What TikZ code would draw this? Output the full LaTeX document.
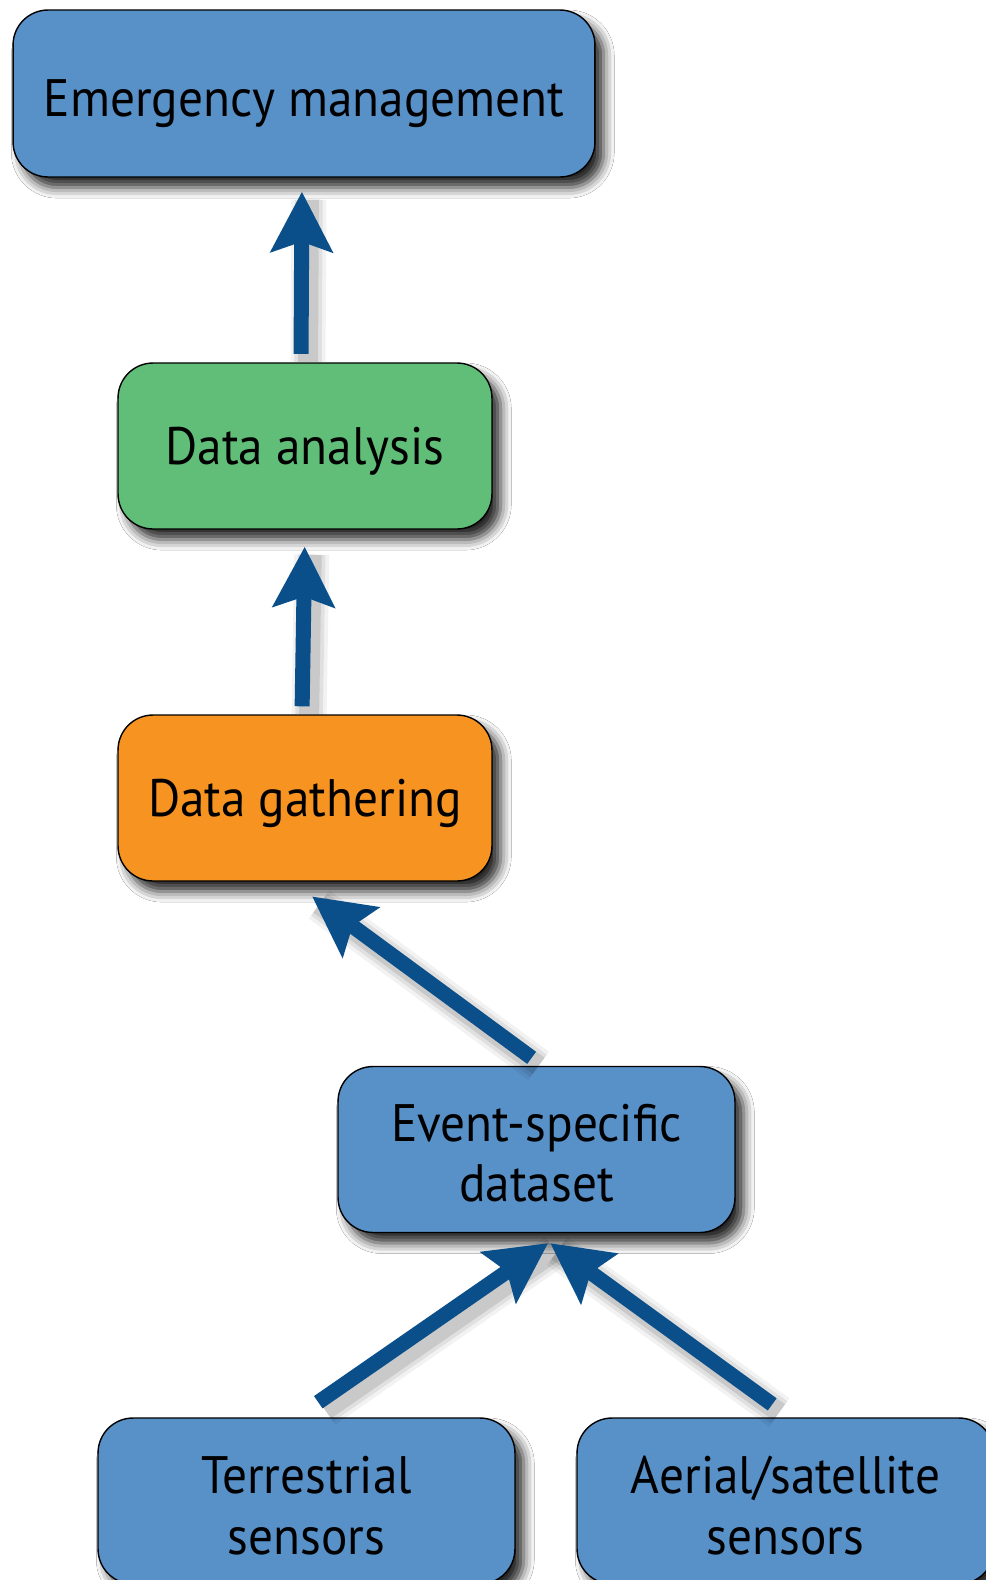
\documentclass[tikz,border=0pt]{standalone}
\usepackage{fontspec}
\setmainfont{PT Sans}[FakeStretch=0.935]
\usetikzlibrary{positioning,calc,arrows.meta,shadows.blur}
\definecolor{boxBlue}{RGB}{88,144,200}
\definecolor{boxGreen}{RGB}{96,190,120}
\definecolor{boxOrange}{RGB}{247,147,32}
\definecolor{arrowBlue}{RGB}{10,79,138}
\tikzstyle{diagram} = [x = 0.02cm, y = -0.02cm]
\tikzstyle{stageBox} = [draw=black, line width=0.8pt, rounded corners=0.7cm, align=center, inner sep=0pt,
  font=\fontsize{30}{34.5}\selectfont, fill=boxBlue,
  blur shadow={shadow xshift=5pt, shadow yshift=-6pt, shadow blur radius=6pt, shadow opacity=85}]
\tikzstyle{oneLine} = [text height=21.6pt, text depth=0pt]
\tikzstyle{wideBox} = [stageBox, oneLine, minimum width=11.64cm, minimum height=3.34cm]
\tikzstyle{midBox} = [stageBox, minimum width=7.48cm, minimum height=3.32cm]
\tikzstyle{sensorBox} = [stageBox, minimum width=8.34cm, minimum height=3.32cm, text height=60.5pt, text depth=0pt]
\tikzstyle{flowArrow} = [color=arrowBlue, line width=0.3cm, -{Stealth[length=1.2cm, width=1.22cm, inset=0.2cm]}]
\tikzstyle{arrowShade} = [color=black, transform canvas={shift={(0.14cm,-0.16cm)}}]
\newcommand{\shadedArrow}[3]{
  \foreach \spread/\fade in {0.7cm/0.05, 0.55cm/0.07, 0.4cm/0.1} {
    \draw[arrowShade, line width=\spread, opacity=\fade, #1] #2 -- #3;
  }
  \draw[flowArrow, #1] #2 -- #3;
}

\begin{document}
\begin{tikzpicture}[diagram]
  \fill[white] (0,0) rectangle (986,1580);
  \useasboundingbox (0,0) rectangle (986,1580);

  % stages
  \node[wideBox, text height=25.8pt] (emergency) at (304,93.5) {Emergency management};
  \node[midBox, oneLine, fill=boxGreen] (analysis) at (305,446) {Data analysis};
  \node[midBox, oneLine, fill=boxOrange] (gathering) at (305,798) {Data gathering};
  \node[midBox, minimum width=7.94cm, text height=59.5pt, text depth=0pt] (dataset) at (536.5,1149.5) {Event-specific\\dataset};
  \node[sensorBox] (terrestrial) at (306.5,1501) {Terrestrial\\sensors};
  \node[sensorBox] (aerial) at (785.5,1501) {Aerial/satellite\\sensors};

  % flow
  \shadedArrow{shorten <=0.17cm, shorten >=0.28cm}{($(analysis.north)+(-4,0)$)}{($(emergency.south)+(-2,0)$)}
  \shadedArrow{shorten <=0.16cm, shorten >=0.34cm}{($(gathering.north)+(-3,0)$)}{(analysis.south)}
  \shadedArrow{shorten <=0.27cm, shorten >=0.5cm}{($(dataset.north)+(6,0)$)}{($(gathering.south)+(-13,0)$)}
  \shadedArrow{shorten <=0.53cm, shorten >=0.35cm}{($(terrestrial.north)+(-10,0)$)}{($(dataset.south)+(26,0)$)}
  \shadedArrow{shorten <=0.44cm, shorten >=0.34cm}{($(aerial.north)+(4.5,0)$)}{(dataset.south)}
\end{tikzpicture}
\end{document}
